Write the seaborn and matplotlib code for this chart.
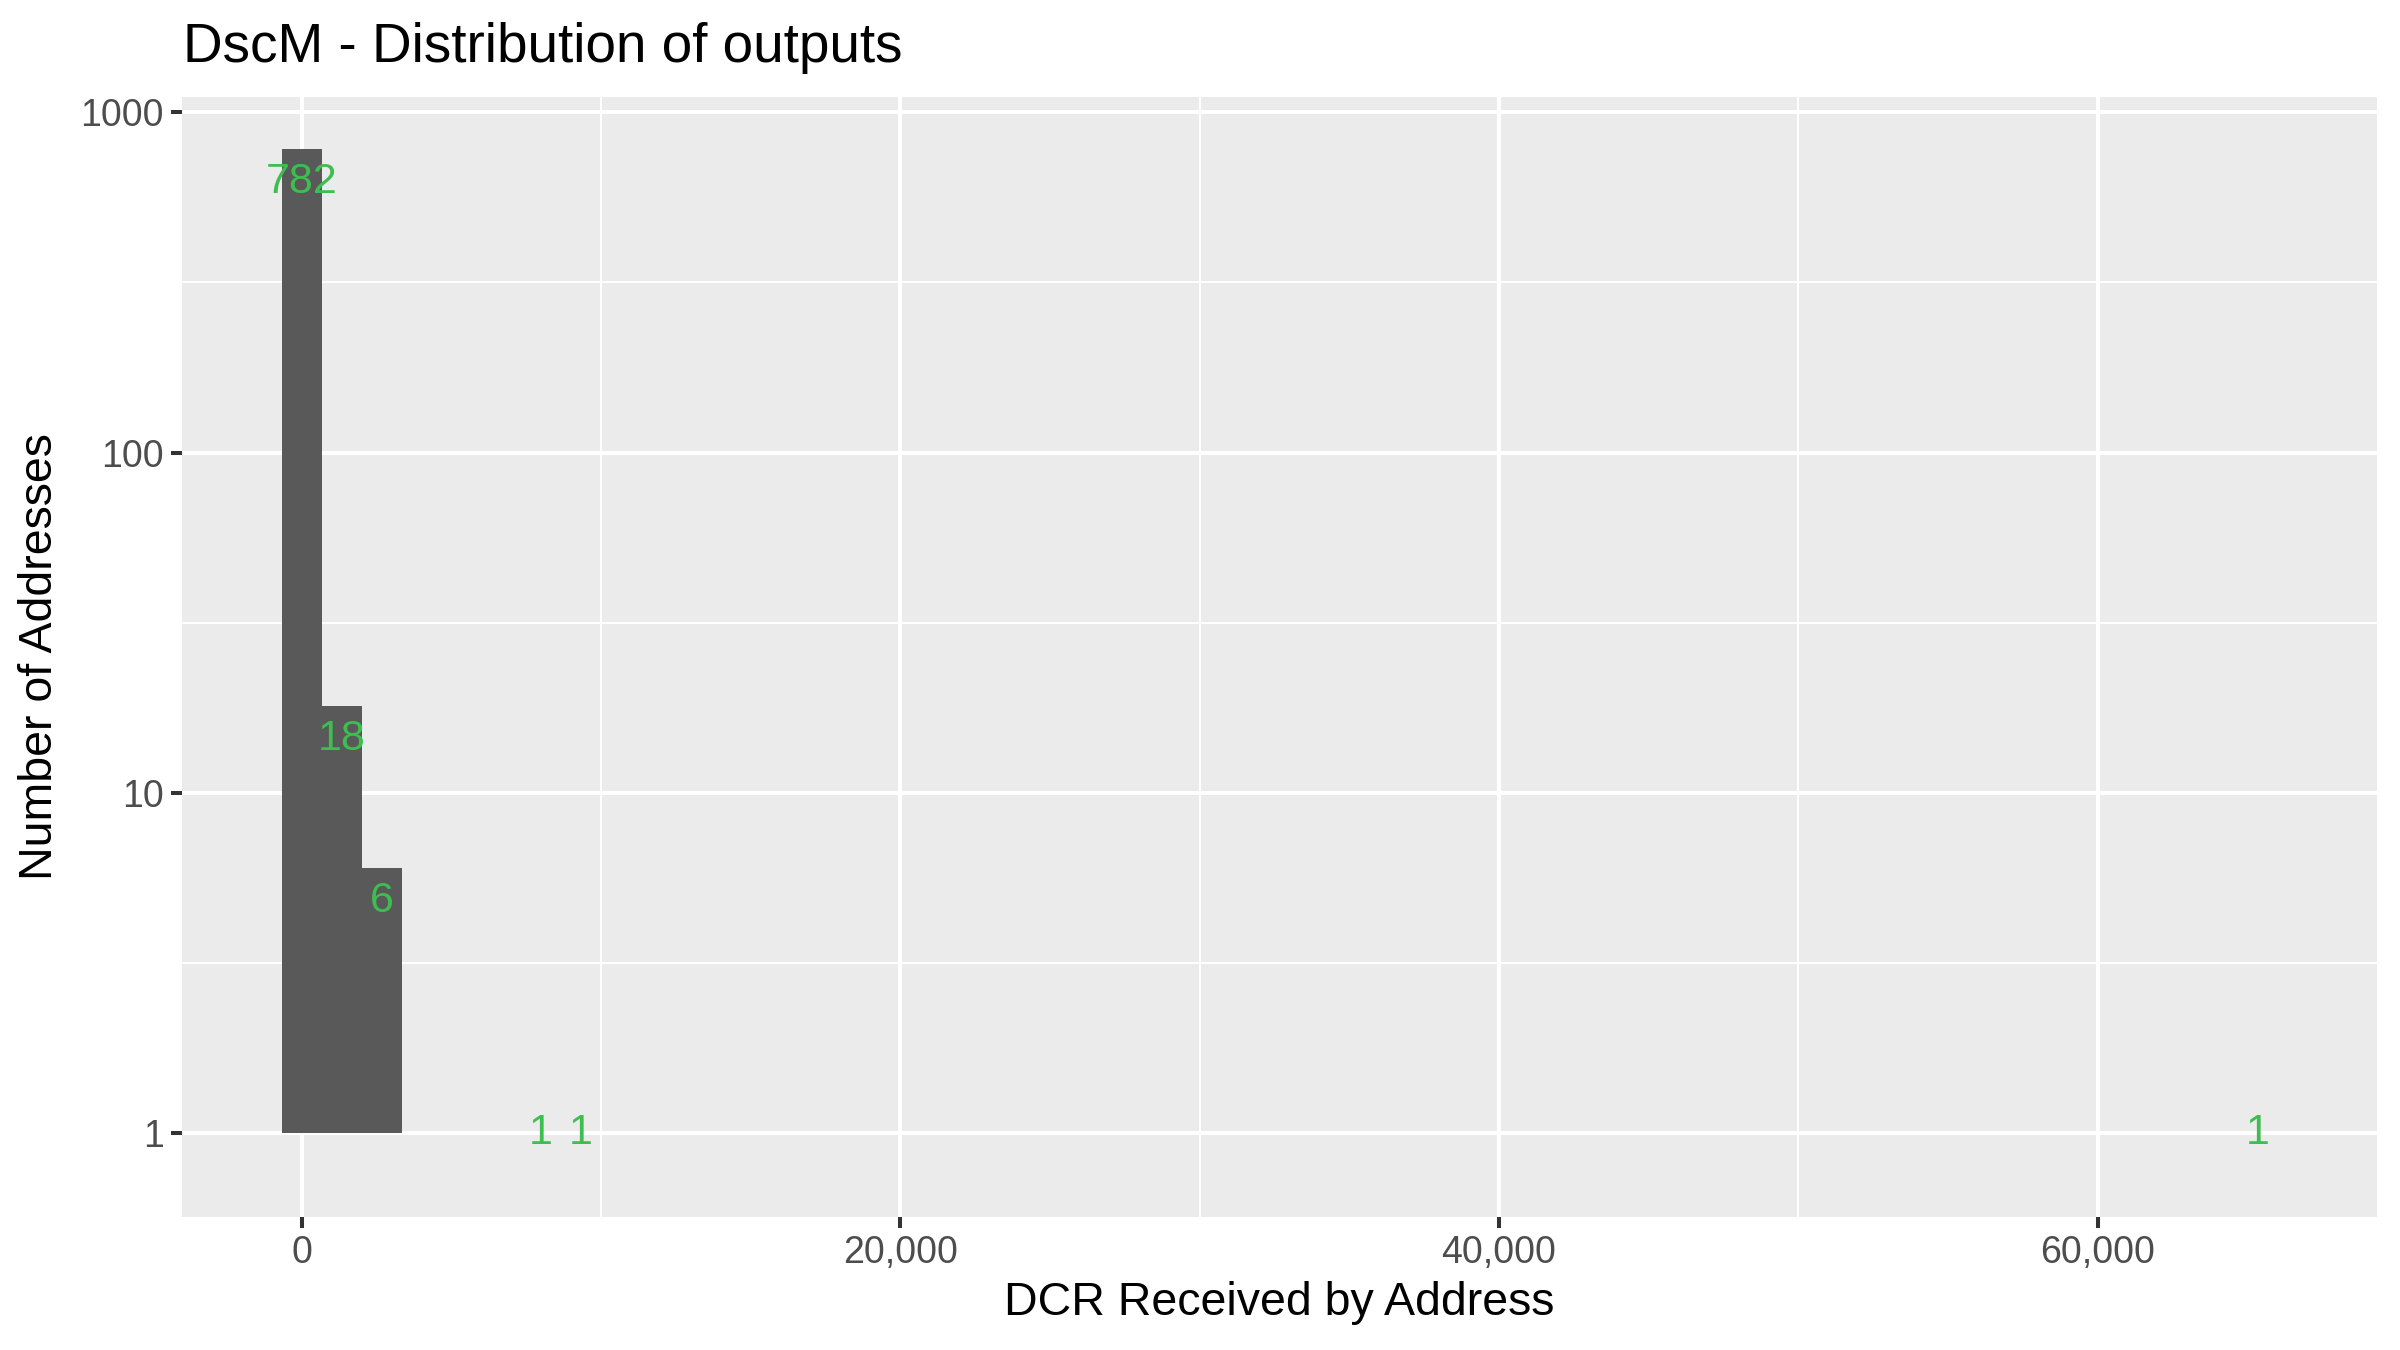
import numpy as np
import pandas as pd
import seaborn as sns
import matplotlib
matplotlib.use("Agg")
import matplotlib.pyplot as plt
from matplotlib.ticker import FixedLocator, FuncFormatter

# ---- data ----
bin_centers = [0, 1333, 2667, 8000, 9333, 65333]   # DCR received (bin centres)
counts = [782, 18, 6, 1, 1, 1]                      # number of addresses per bin
bin_width = 65333.33 / 49                           # 50 bins over the data range
x_ticks = [0, 20000, 40000, 60000]
y_ticks = [1, 10, 100, 1000]
title = "DscM - Distribution of outputs"
x_label = "DCR Received by Address"
y_label = "Number of Addresses"

df = pd.DataFrame({"dcr": bin_centers, "n": counts})

sns.set_theme(style="darkgrid")
plt.rcParams["font.family"] = ["Liberation Sans", "DejaVu Sans"]

fig = plt.figure(figsize=(24, 13.5), dpi=100)
L, R, T, B = 182 / 2400, 2377 / 2400, 1 - 97 / 1350, 1 - 1217 / 1350
ax = fig.add_axes([L, B, R - L, T - B])
ax.set_facecolor("#EBEBEB")
for s in ax.spines.values():
    s.set_visible(False)

sns.histplot(data=df, x="dcr", weights="n", binwidth=bin_width,
             binrange=(-bin_width / 2, 65333.33 + bin_width / 2),
             color="#595959", alpha=1, linewidth=0, edgecolor="none", ax=ax)
ax.set_yscale("log")
# ggplot-style log bars: start at 1
for p in ax.patches:
    h = p.get_height()
    if h >= 1:
        p.set_y(1)
        p.set_height(h - 1)
    else:
        p.set_visible(False)

green = "#3DBE4F"
for x, c in zip(bin_centers, counts):
    ax.text(x, max(c / 1.25, 1), str(c), ha="center", va="center",
            color=green, fontsize=31)

ax.set_xlim(-4000, 69333)
ax.set_ylim(10 ** -0.246, 10 ** 3.045)

ax.xaxis.set_major_locator(FixedLocator(x_ticks))
ax.xaxis.set_major_formatter(FuncFormatter(lambda v, p: f"{int(v):,}"))
ax.xaxis.set_minor_locator(FixedLocator([10000, 30000, 50000]))
ax.yaxis.set_major_locator(FixedLocator(y_ticks))
ax.yaxis.set_major_formatter(FuncFormatter(lambda v, p: f"{int(v)}"))
ax.yaxis.set_minor_locator(FixedLocator([10 ** 0.5, 10 ** 1.5, 10 ** 2.5]))

ax.set_axisbelow(True)
ax.grid(which="major", color="white", linewidth=2.9)
ax.grid(which="minor", color="white", linewidth=1.4)
ax.tick_params(which="major", bottom=True, left=True, length=8, width=2.9,
               color="#333333", labelsize=27, labelcolor="#4D4D4D", pad=5)
ax.tick_params(which="minor", length=0)

ax.set_xlabel(x_label, fontsize=33.5, color="black")
ax.set_ylabel(y_label, fontsize=33.5, color="black")
ax.xaxis.label.set_va("center")
ax.yaxis.label.set_va("center")
ax.xaxis.set_label_coords(0.5, (1217 - 1303) / 1120)
ax.yaxis.set_label_coords((40 - 182) / 2195, 0.5)

fig.text(L + 1 / 2400, 1 - 48 / 1350, title, ha="left", va="center",
         fontsize=39.5, color="black")

fig.savefig("out.png", dpi=100, facecolor="white")
